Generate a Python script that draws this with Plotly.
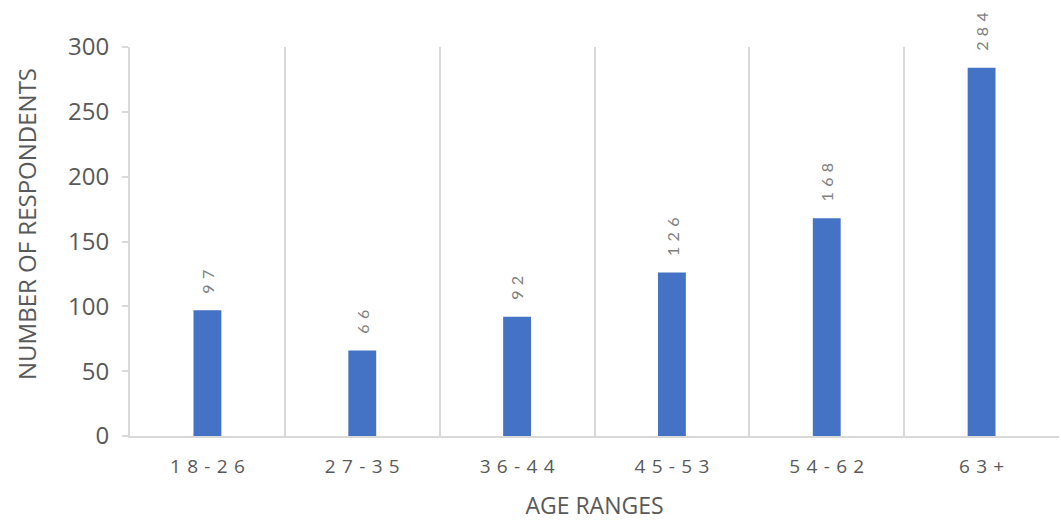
import plotly.graph_objects as go

# Respondents per age band
age_ranges = ["18-26", "27-35", "36-44", "45-53", "54-62", "63+"]
respondents = [97, 66, 92, 126, 168, 284]

TICK_SP = "\u2004"   # three-per-em space between tick characters
LABEL_SP = "\u2004"  # same spacing for the value labels


def spaced(s, sp):
    return sp.join(list(s))


BAR = "#4472C4"
TEXT = "#595959"
GRID = "#d9d9d9"
FONT = "Open Sans, Segoe UI, sans-serif"
LABEL_FONT = "Lato, Carlito, Calibri, sans-serif"

fig = go.Figure()
fig.add_trace(go.Bar(
    x=age_ranges,
    y=respondents,
    marker=dict(color=BAR, line=dict(width=0)),
    width=0.18,
    hoverinfo="x+y",
))

# rotated value labels above each bar
for cat, val in zip(age_ranges, respondents):
    fig.add_annotation(
        x=cat, y=val, xref="x", yref="y",
        text=spaced(str(val), LABEL_SP),
        textangle=-90,
        showarrow=False,
        yanchor="bottom",
        yshift=15,
        font=dict(family=LABEL_FONT, size=16, color="#7f7f7f"),
    )

# vertical y-axis title, placed a little above the plot centre
fig.add_annotation(
    text="NUMBER OF RESPONDENTS",
    xref="paper", yref="paper",
    x=0, y=0.545, xshift=-103,
    textangle=-90, showarrow=False,
    xanchor="center", yanchor="middle",
    font=dict(family=FONT, size=24, color=TEXT),
)

fig.update_layout(
    width=1061, height=521,
    margin=dict(l=130, r=2, t=47, b=85),
    paper_bgcolor="white",
    plot_bgcolor="white",
    showlegend=False,
    bargap=0.82,
    font=dict(family=FONT, color=TEXT),
)

fig.update_xaxes(
    type="category",
    automargin=False,
    tickmode="array",
    tickvals=age_ranges,
    ticktext=[spaced(a, TICK_SP) for a in age_ranges],
    tickson="boundaries",
    showgrid=True,
    gridcolor=GRID,
    gridwidth=2,
    ticks="",
    ticklabelstandoff=12,
    showline=True,
    linecolor=GRID,
    linewidth=2,
    tickfont=dict(family=FONT, size=19, color=TEXT),
    title=dict(text="AGE RANGES", font=dict(family=FONT, size=23, color=TEXT), standoff=28),
    range=[-0.5, 5.5],
)

fig.update_yaxes(
    automargin=False,
    range=[0, 300],
    tickmode="array",
    tickvals=[0, 50, 100, 150, 200, 250, 300],
    showgrid=False,
    zeroline=False,
    showline=True,
    linecolor=GRID,
    linewidth=2,
    ticks="outside",
    ticklen=6,
    tickcolor=GRID,
    tickwidth=2,
    ticklabelstandoff=8,
    tickfont=dict(family=FONT, size=24, color=TEXT),
)

fig.write_html("out.html")
